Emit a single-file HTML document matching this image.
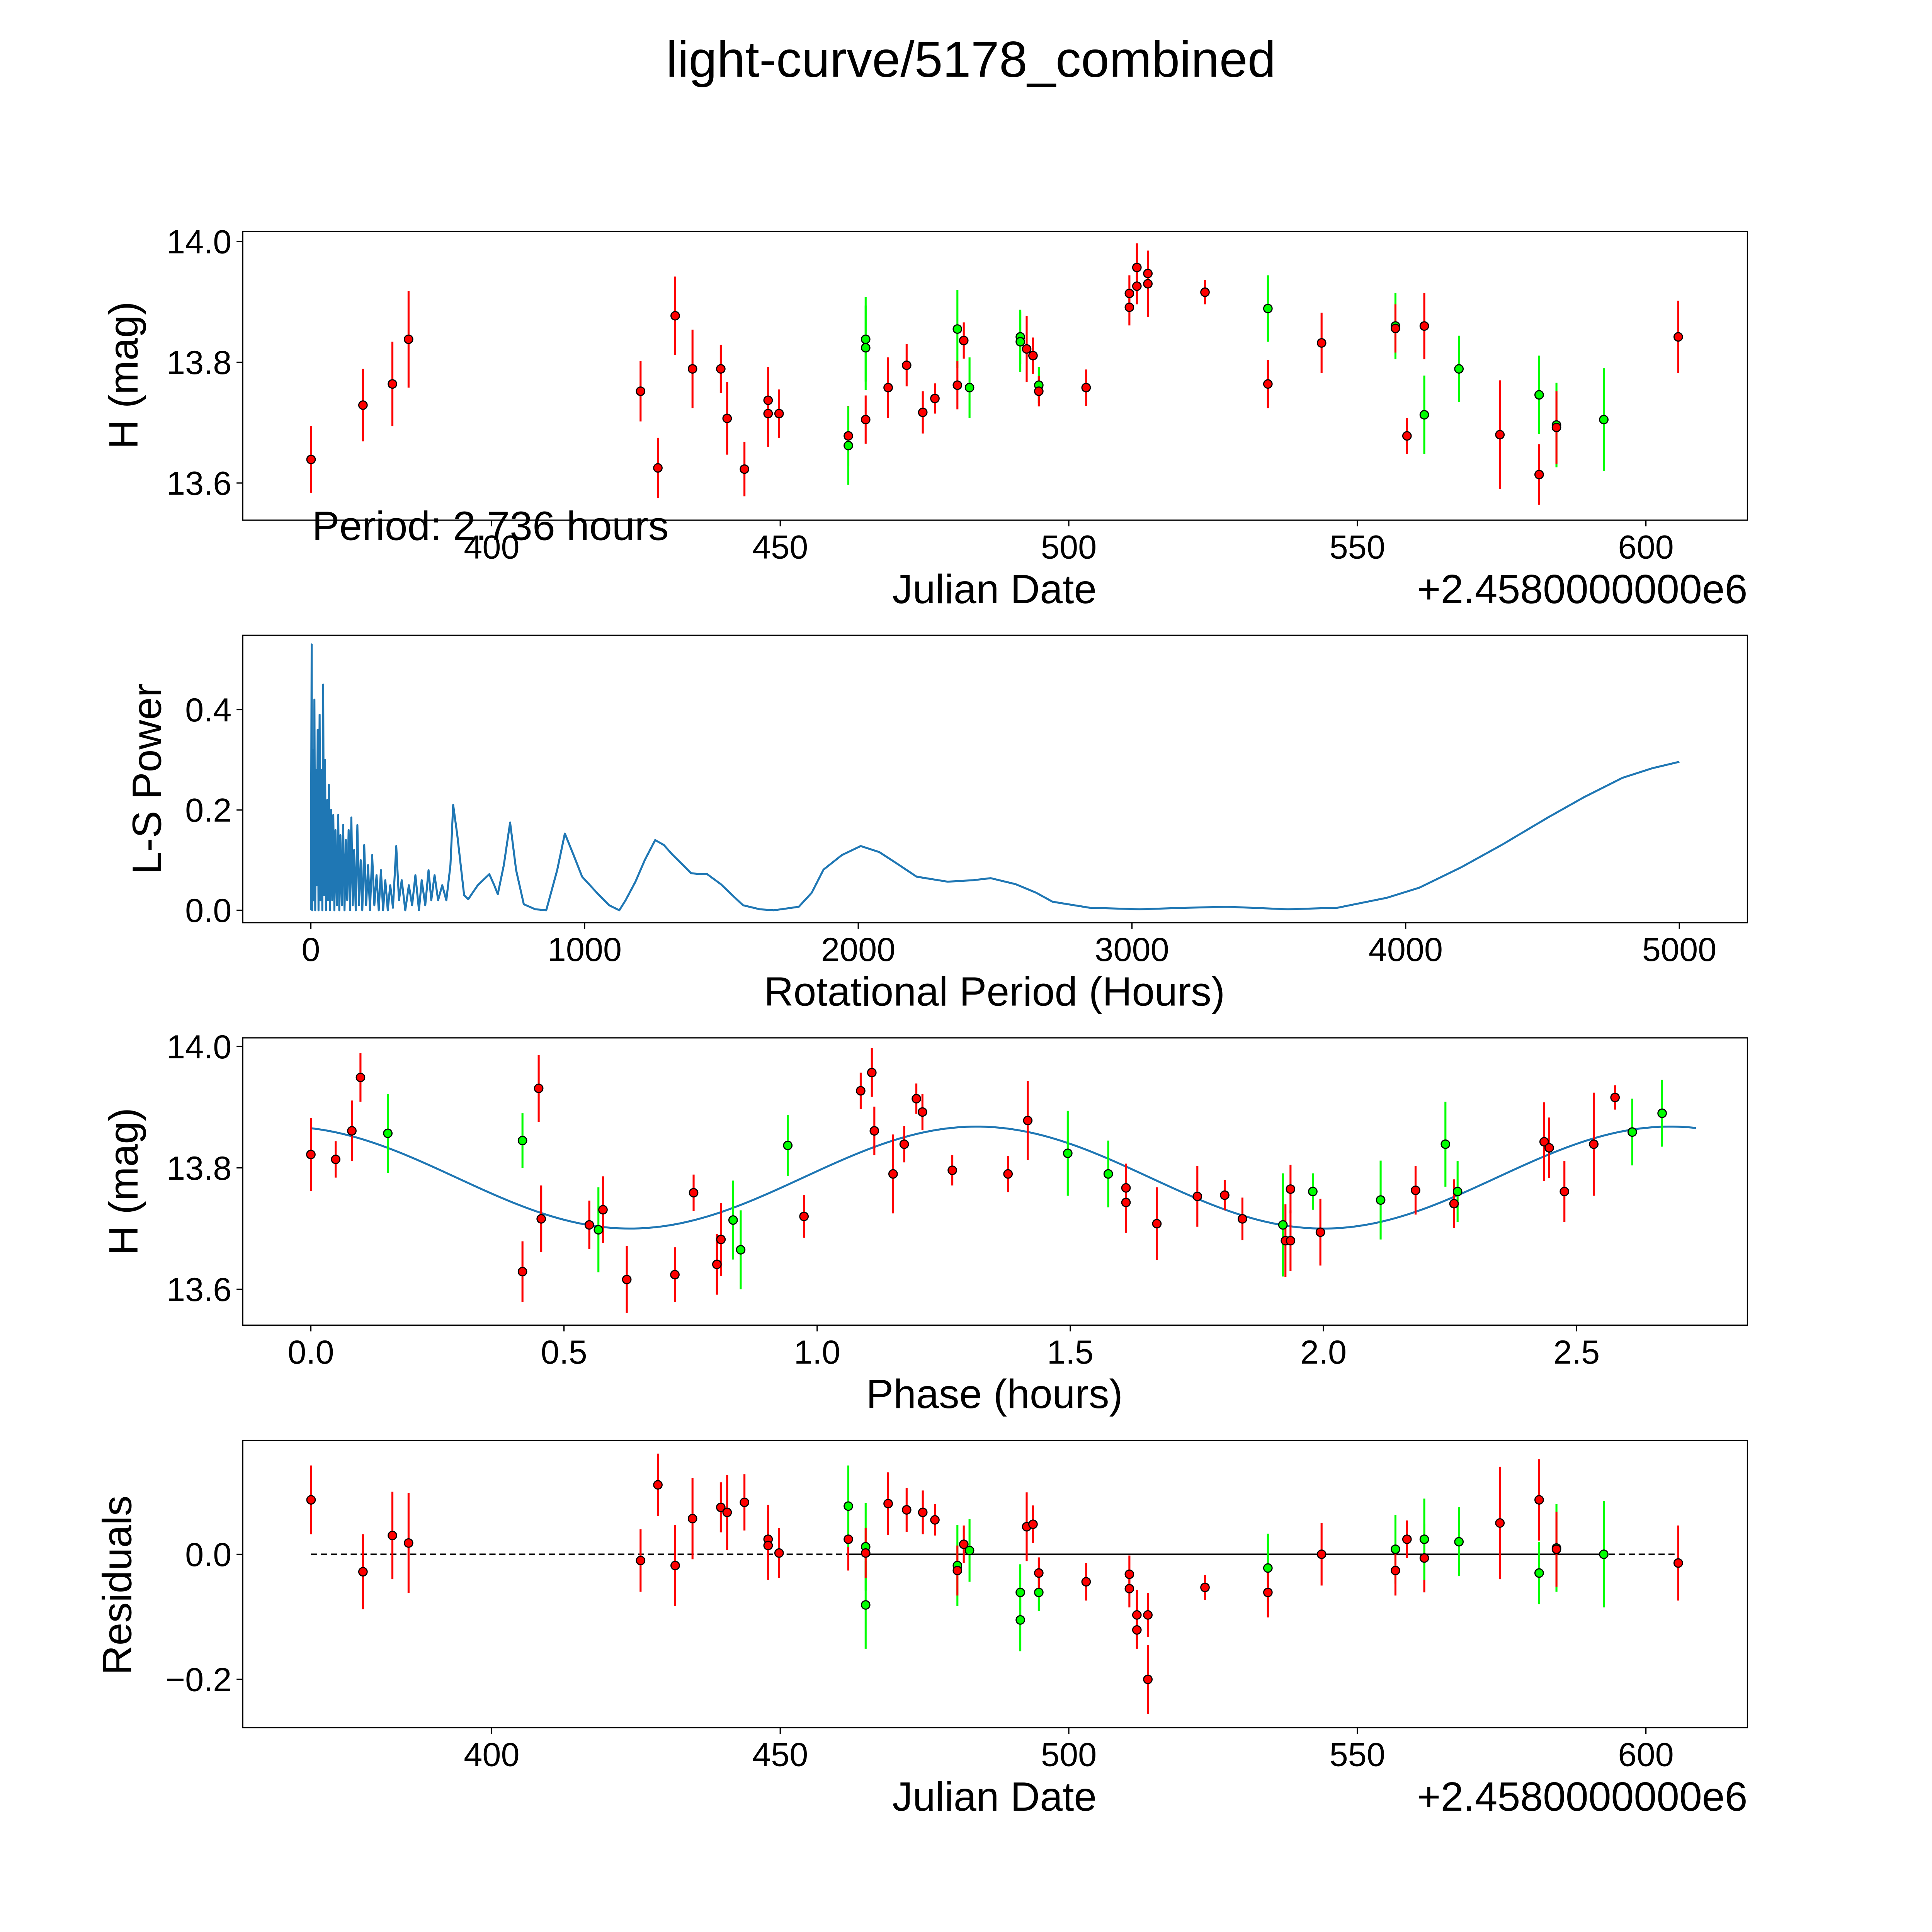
<!DOCTYPE html>
<html><head><meta charset="utf-8"><style>
html,body{margin:0;padding:0;background:#fff;width:100%;height:100%;overflow:hidden}
svg{display:block;width:100vw;height:100vh}
text{font-family:"Liberation Sans","DejaVu Sans",sans-serif;fill:#000}
</style></head><body>
<svg id="chart" xmlns="http://www.w3.org/2000/svg" viewBox="0 0 1560 1560" preserveAspectRatio="none">
<rect x="0" y="0" width="1560" height="1560" fill="#fff"/>
<text x="784" y="62" font-size="41" text-anchor="middle">light-curve/5178_combined</text>
</svg>
<script>
// ---- Data: observations (panel 1) ----
const obsDate=[368.7,377.7,382.8,385.6,425.8,428.8,431.8,434.8,439.7,440.8,443.8,447.9,447.9,449.8,461.8,461.8,464.8,464.8,464.8,468.7,471.9,474.7,476.8,480.7,480.7,481.8,482.8,491.6,491.6,492.7,493.8,494.8,494.8,503.0,510.5,510.5,511.8,511.8,513.7,513.7,523.6,534.5,534.5,543.8,556.6,556.6,558.6,561.6,561.6,567.6,574.7,581.5,581.5,584.5,584.5,592.7,605.6];
const obsMag=[13.639,13.729,13.764,13.838,13.752,13.625,13.877,13.789,13.789,13.707,13.623,13.737,13.715,13.715,13.678,13.662,13.838,13.824,13.705,13.758,13.795,13.717,13.74,13.855,13.762,13.836,13.758,13.842,13.834,13.822,13.811,13.762,13.752,13.758,13.914,13.891,13.957,13.926,13.947,13.93,13.916,13.889,13.764,13.832,13.86,13.856,13.678,13.86,13.713,13.789,13.68,13.746,13.614,13.696,13.692,13.705,13.842];
const obsErr=[0.055,0.06,0.07,0.08,0.05,0.05,0.065,0.065,0.04,0.06,0.045,0.055,0.055,0.04,0.05,0.065,0.07,0.07,0.04,0.05,0.035,0.035,0.025,0.065,0.04,0.03,0.05,0.045,0.05,0.055,0.03,0.03,0.025,0.03,0.03,0.03,0.04,0.03,0.035,0.055,0.02,0.055,0.04,0.05,0.055,0.04,0.03,0.055,0.065,0.055,0.09,0.065,0.05,0.07,0.06,0.085,0.06];
const obsBand=["r","r","r","r","r","r","r","r","r","r","r","r","r","r","r","g","g","g","r","r","r","r","r","g","r","r","g","g","g","r","r","g","r","r","r","r","r","r","r","r","r","g","r","r","g","r","r","r","g","g","r","g","r","g","r","g","r"];
// ---- Periodogram (panel 2) ----
const lsPeriod=[0,3,5,8,10,13,16,19,22,25,28,32,35,38,42,45,48,52,55,60,63,66,70,74,78,82,86,90,95,100,104,108,113,118,123,128,133,138,143,148,153,158,164,170,176,182,188,195,202,209,216,224,232,240,248,256,264,272,281,290,300,312,322,332,345,358,370,382,395,405,418,430,440,452,465,480,495,510,520,535,560,575,610,652,670,683,705,728,750,778,820,860,900,928,960,991,1050,1090,1127,1150,1186,1220,1258,1290,1321,1360,1389,1420,1448,1498,1540,1579,1640,1692,1783,1830,1873,1940,2009,2077,2150,2213,2326,2420,2484,2575,2650,2710,2846,3027,3200,3344,3570,3751,3932,4050,4204,4350,4520,4650,4792,4900,5000];
const lsPower=[0,0.53,0,0.32,0.02,0.42,0,0.28,0.05,0.36,0,0.39,0.02,0.28,0,0.45,0.03,0.3,0,0.22,0.02,0.25,0,0.2,0.02,0.19,0,0.16,0.01,0.19,0,0.15,0.01,0.17,0,0.14,0.02,0.16,0,0.185,0.01,0.12,0,0.17,0.01,0.1,0,0.13,0.01,0.09,0,0.11,0.01,0.07,0,0.08,0,0.06,0,0.05,0.005,0.128,0.02,0.06,0,0.05,0.01,0.07,0,0.06,0.01,0.08,0.02,0.07,0.02,0.05,0.02,0.09,0.21,0.15,0.03,0.022,0.05,0.072,0.05,0.032,0.09,0.175,0.08,0.012,0.002,0,0.08,0.153,0.11,0.067,0.032,0.01,0,0.02,0.057,0.1,0.14,0.13,0.111,0.09,0.074,0.072,0.072,0.052,0.03,0.01,0.002,0,0.007,0.035,0.081,0.11,0.128,0.116,0.09,0.067,0.057,0.06,0.064,0.052,0.035,0.017,0.005,0.002,0.005,0.007,0.002,0.005,0.025,0.045,0.086,0.13,0.185,0.225,0.264,0.283,0.296];
// ---- Phased data (panel 3) ----
const phHour=[0,0.049,0.081,0.098,0.152,0.418,0.418,0.45,0.455,0.55,0.568,0.577,0.624,0.719,0.756,0.802,0.81,0.834,0.849,0.942,0.974,1.086,1.108,1.113,1.15,1.172,1.196,1.208,1.267,1.377,1.416,1.495,1.575,1.61,1.61,1.671,1.751,1.805,1.84,1.92,1.925,1.935,1.935,1.979,1.994,2.113,2.182,2.241,2.258,2.265,2.436,2.446,2.476,2.534,2.576,2.61,2.669];
const phMag=[13.822,13.814,13.861,13.949,13.857,13.845,13.629,13.931,13.716,13.706,13.698,13.731,13.616,13.624,13.759,13.641,13.682,13.714,13.665,13.837,13.72,13.927,13.957,13.861,13.79,13.839,13.914,13.892,13.796,13.79,13.878,13.824,13.79,13.767,13.743,13.708,13.753,13.755,13.716,13.706,13.68,13.68,13.765,13.761,13.694,13.747,13.763,13.839,13.741,13.761,13.843,13.833,13.761,13.839,13.916,13.859,13.89];
const phErr=[0.06,0.03,0.05,0.04,0.065,0.045,0.05,0.055,0.055,0.04,0.07,0.055,0.055,0.045,0.03,0.05,0.06,0.065,0.065,0.05,0.035,0.03,0.04,0.04,0.065,0.03,0.025,0.03,0.025,0.03,0.065,0.07,0.055,0.04,0.05,0.06,0.05,0.025,0.035,0.085,0.06,0.05,0.04,0.03,0.055,0.065,0.04,0.07,0.04,0.05,0.065,0.05,0.05,0.085,0.02,0.055,0.055];
const phBand=["r","r","r","r","g","g","r","r","r","r","g","r","r","r","r","r","r","g","g","g","r","r","r","r","r","r","r","r","r","r","r","g","g","r","r","r","r","r","r","g","r","r","r","g","r","g","r","g","r","g","r","r","r","r","r","g","g"];
const fitMean=[13.784], fitAmp=[0.084], fitPeriod=[1.37], fitPeak=[1.315], fitRange=[0,2.736];
// ---- Residuals (panel 4) ----
const resDate=[368.7,377.7,382.8,385.6,425.8,428.8,431.8,434.8,439.7,440.8,443.8,447.9,447.9,449.8,461.8,461.8,464.8,464.8,464.8,468.7,471.9,474.7,476.8,480.7,480.7,481.8,482.8,491.6,491.6,492.7,493.8,494.8,494.8,503.0,510.5,510.5,511.8,511.8,513.7,513.7,523.6,534.5,534.5,543.8,556.6,556.6,558.6,561.6,561.6,567.6,574.7,581.5,581.5,584.5,584.5,592.7,605.6];
const resVal=[0.087,-0.028,0.03,0.018,-0.01,0.111,-0.018,0.057,0.075,0.067,0.083,0.024,0.014,0.002,0.024,0.077,0.012,-0.081,0.002,0.081,0.071,0.067,0.055,-0.018,-0.026,0.016,0.006,-0.061,-0.105,0.044,0.048,-0.061,-0.03,-0.044,-0.032,-0.055,-0.097,-0.121,-0.097,-0.2,-0.053,-0.022,-0.061,0,0.008,-0.026,0.024,-0.006,0.024,0.02,0.05,0.087,-0.03,0.01,0.008,0,-0.014];
const resBand=["r","r","r","r","r","r","r","r","r","r","r","r","r","r","r","g","g","g","r","r","r","r","r","g","r","r","g","g","g","r","r","g","r","r","r","r","r","r","r","r","r","g","r","r","g","r","r","r","g","g","r","r","g","g","r","g","r"];
const resErr=obsErr;

const NS="http://www.w3.org/2000/svg";
const svg=document.getElementById('chart');
const TICK=27, LAB=33;
function mk(tag,attrs,parent){const e=document.createElementNS(NS,tag);for(const k in attrs)e.setAttribute(k,attrs[k]);(parent||svg).appendChild(e);return e;}
function lin(d0,d1,p0,p1){return v=>p0+(v-d0)*(p1-p0)/(d1-d0);}
const L=196,R=1411;
function frame(top,bot,name){
  const r=mk('rect',{x:L,y:top,width:R-L,height:bot-top,fill:'none',stroke:'#000','stroke-width':1});
  
  
}
function xticks(vals,fmt,sx,bot,name){
  vals.forEach(v=>{const x=sx(v);
    mk('line',{x1:x,y1:bot,x2:x,y2:bot+5,stroke:'#000','stroke-width':1});
    const t=mk('text',{x:x,y:bot+31,'font-size':TICK,'text-anchor':'middle'});t.textContent=fmt(v);
    
    
  });
}
function yticks(vals,fmt,sy,name){
  vals.forEach(v=>{const y=sy(v);
    mk('line',{x1:L,y1:y,x2:L-5,y2:y,stroke:'#000','stroke-width':1});
    const t=mk('text',{x:L-9,y:y+9.5,'font-size':TICK,'text-anchor':'end'});t.textContent=fmt(v);
    
    
  });
}
function label(txt,x,y,rot,name,anchor,size){
  const t=mk('text',{x:x,y:y,'font-size':size||LAB,'text-anchor':anchor||'middle'});
  if(rot)t.setAttribute('transform','rotate(-90 '+x+' '+y+')');
  t.textContent=txt;
  
  
}
function points(xs,ys,es,bands,sx,sy,ey,name){
  xs.forEach((xv,i)=>{const x=sx(xv),y=sy(ys[i]);const c=bands[i]==='g'?'#00ff00':'#ff0000';
    const e=es[i]*ey;
    const l=mk('line',{x1:x,y1:y-e,x2:x,y2:y+e,stroke:c,'stroke-width':1.6});
    
    
  });
  xs.forEach((xv,i)=>{const x=sx(xv),y=sy(ys[i]);const c=bands[i]==='g'?'#00ff00':'#ff0000';
    const p=mk('circle',{cx:x,cy:y,r:3.4,fill:c,stroke:'#000','stroke-width':0.9});
    
    
  });
}
const dateFmt=v=>String(v);
const mag=v=>v.toFixed(1);
// Panel 1
const x1=lin(400,600,397,1329), y1=lin(13.6,14.0,390,195);
frame(187,420,'light-curve-axes');
xticks([400,450,500,550,600],dateFmt,x1,420,'julian-date');
yticks([13.6,13.8,14.0],mag,y1,'magnitude');
points(obsDate,obsMag,obsErr,obsBand,x1,y1,487.5,'observation');
label('H (mag)',111,303,true,'y-axis-title-magnitude');
label('Julian Date',803,487,false,'x-axis-title-julian-date');
label('+2.4580000000e6',1411,487,false,'x-axis-offset','end');
label('Period: 2.736 hours',252,436,false,'period-annotation','start');
// Panel 2
const x2=lin(0,5000,251,1356), y2=lin(0,0.4,735,573);
frame(513,745,'periodogram-axes');
xticks([0,1000,2000,3000,4000,5000],dateFmt,x2,745,'period');
yticks([0,0.2,0.4],mag,y2,'power');
let d='';lsPeriod.forEach((p,i)=>{d+=(i?'L':'M')+x2(p).toFixed(2)+' '+y2(lsPower[i]).toFixed(2)+' ';});
const ls=mk('path',{d:d,fill:'none',stroke:'#1f77b4','stroke-width':1.6,'stroke-linejoin':'round'});


label('L-S Power',130,629,true,'y-axis-title-power');
label('Rotational Period (Hours)',803,812,false,'x-axis-title-period');
// Panel 3
const x3=lin(0,2.5,251,1273), y3=lin(13.6,14.0,1041,845);
frame(838,1070,'phase-axes');
xticks([0,0.5,1.0,1.5,2.0,2.5],v=>v.toFixed(1),x3,1070,'phase');
yticks([13.6,13.8,14.0],mag,y3,'phase-magnitude');
let fd='';for(let i=0;i<=300;i++){const h=fitRange[0]+(fitRange[1]-fitRange[0])*i/300;
  const m=fitMean[0]+fitAmp[0]*Math.cos(2*Math.PI*(h-fitPeak[0])/fitPeriod[0]);
  fd+=(i?'L':'M')+x3(h).toFixed(2)+' '+y3(m).toFixed(2)+' ';}
const fit=mk('path',{d:fd,fill:'none',stroke:'#1f77b4','stroke-width':1.6});


points(phHour,phMag,phErr,phBand,x3,y3,490,'phased-observation');
label('H (mag)',111,954,true,'y-axis-title-phase-magnitude');
label('Phase (hours)',803,1137,false,'x-axis-title-phase');
// Panel 4
const x4=x1, y4=lin(0,-0.2,1255,1356);
frame(1163,1395,'residuals-axes');
xticks([400,450,500,550,600],dateFmt,x4,1395,'residual-date');
yticks([-0.2,0.0],v=>(v<0?'\u2212':'')+Math.abs(v).toFixed(1),y4,'residual');
const zl=mk('line',{x1:x4(368.7),y1:y4(0),x2:x4(605.6),y2:y4(0),stroke:'#000','stroke-width':1.2,'stroke-dasharray':'5,3'});


const zs=mk('line',{x1:x4(462),y1:y4(0),x2:x4(592.7),y2:y4(0),stroke:'#000','stroke-width':1.2});


points(resDate,resVal,resErr,resBand,x4,y4,505,'residual');
label('Residuals',106,1280,true,'y-axis-title-residuals');
label('Julian Date',803,1462,false,'x-axis-title-residual-date');
label('+2.4580000000e6',1411,1462,false,'residual-x-axis-offset','end');
</script>
</body></html>
